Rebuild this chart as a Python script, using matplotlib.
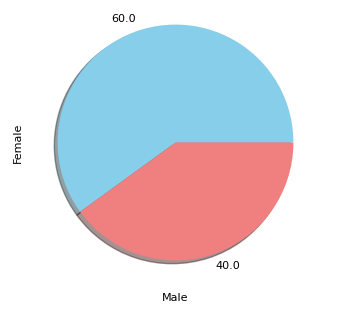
import matplotlib
matplotlib.use("Agg")
import matplotlib.pyplot as plt

values = [60.0, 40.0]
labels = ["60.0", "40.0"]
colors = ["skyblue", "lightcoral"]

W, H = 362, 319
fig = plt.figure(figsize=(W / 100, H / 100), dpi=100)
ax = fig.add_axes([34 / W, 35 / H, 283 / W, 283 / H])
ax.pie(values, labels=labels, colors=colors, shadow=True, startangle=0,
       textprops={"fontsize": 8})
ax.set_xlim(-1.2, 1.2)
ax.set_ylim(-1.2, 1.2)
ax.set_aspect("equal")
ax.set_ylabel("Female", fontsize=8, labelpad=8)
ax.set_xlabel("Male", fontsize=8, labelpad=6.5)
fig.savefig("out.png", dpi=100)
